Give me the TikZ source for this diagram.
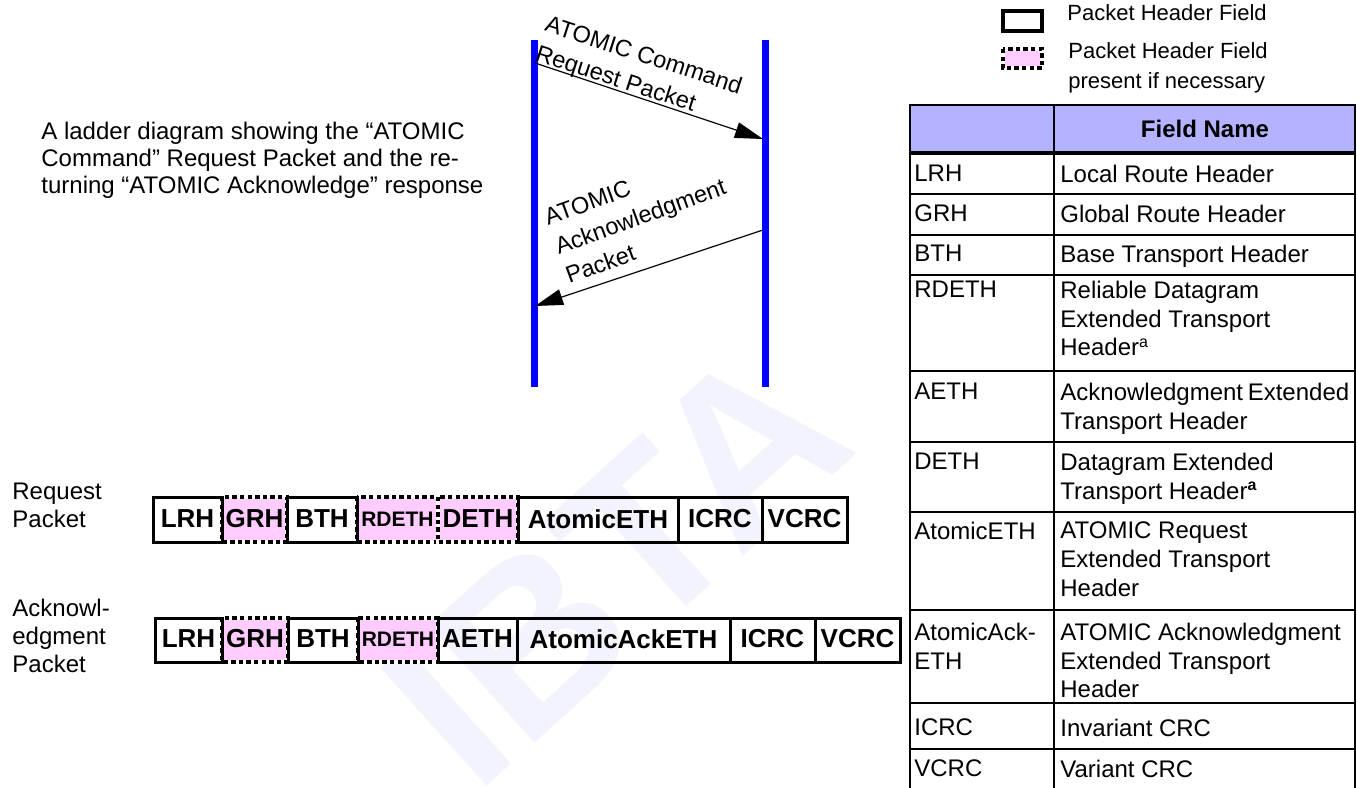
\documentclass[tikz,border=0pt]{standalone}
\usepackage{fontspec}
\setmainfont{Liberation Sans}
\usepackage{tikz}
\usetikzlibrary{arrows.meta,positioning}
\definecolor{fieldpink}{HTML}{FFCCFF}
\definecolor{headblue}{HTML}{B3B3FF}
\definecolor{ladderblue}{HTML}{0000FF}
\definecolor{markblue}{HTML}{F3F3FD}
\tikzset{
  solidfld/.style={draw=black,line width=1.5pt},
  optfld/.style={fill=fieldpink,draw=white,line width=1.8pt,
    postaction={draw=black,line width=1.8pt,dash pattern=on 2.2pt off 1.6pt}},
  bigfld/.style={font=\fontsize{13}{14}\selectfont\bfseries,inner sep=0pt},
  smallfld/.style={font=\fontsize{10.5}{12}\selectfont\bfseries,inner sep=0pt},
  notetxt/.style={font=\fontsize{12}{14}\selectfont,align=left,anchor=north west,inner sep=0pt},
  celltxt/.style={font=\fontsize{12}{14.4}\selectfont,align=left,anchor=north west,inner sep=0pt},
  msglbl/.style={font=\fontsize{11.8}{15.5}\selectfont,align=left,anchor=north west,inner sep=0pt},
  legtxt/.style={font=\fontsize{11}{15}\selectfont,align=left,anchor=north west,inner sep=0pt},
  ladder/.style={draw=ladderblue,line width=3.5pt},
  msg/.style={draw=black,line width=0.6pt,-{Triangle[length=14pt,width=8pt]}},
  tline/.style={draw=black,line width=1.2pt},
  wmark/.style={text=markblue,font=\fontsize{115}{115}\selectfont\bfseries,inner sep=0pt}
}
\begin{document}
\begin{tikzpicture}[x=0.5pt,y=-0.5pt]
\useasboundingbox (0,0) rectangle (1357,788);
\node[wmark,rotate=42] (wm) at (616,564) {IBTA};

% ladder
\coordinate (lt) at (534.5,40); \coordinate (lb) at (534.5,387);
\coordinate (rt) at (765,40); \coordinate (rb) at (765,387);
\draw[ladder] (lt) -- (lb);
\draw[ladder] (rt) -- (rb);
\coordinate (q1) at (535,63); \coordinate (q2) at (763,139);
\coordinate (k1) at (763,230); \coordinate (k2) at (535,306);
\draw[msg] (q1) -- (q2);
\draw[msg] (k1) -- (k2);
\node[msglbl,rotate=-18] (reqlbl) at (549,14) {ATOMIC Command\\Request Packet};
\node[msglbl,rotate=20] (acklbl) at (542,210) {ATOMIC\\Acknowledgment\\Packet};

\node[notetxt,font=\fontsize{12}{13.5}\selectfont] (note) at (41,121.5) {A ladder diagram showing the “ATOMIC\\Command” Request Packet and the re-\\turning “ATOMIC Acknowledge” response};

% packets
\node[notetxt] (reqname) at (12,482.5) {Request\\Packet};
\node[notetxt] (ackname) at (12,598.5) {Acknowl-\\edgment\\Packet};
\foreach \xa/\xb/\lbl/\sty in {222/287/GRH/bigfld,357/438/RDETH/smallfld,438/518/DETH/bigfld}{
  \draw[optfld] (\xa,497) rectangle (\xb,542);
  \node[\sty] (rq\lbl) at ({(\xa+\xb)/2},519) {\lbl};}
\foreach \xa/\xb/\lbl in {153/222/LRH,287/357/BTH,518/678/AtomicETH,678/762/ICRC,762/847/VCRC}{
  \draw[solidfld] (\xa,497) rectangle (\xb,542);
  \node[bigfld] (rq\lbl) at ({(\xa+\xb)/2},519) {\lbl};}
\foreach \xa/\xb/\lbl/\sty in {222/288/GRH/bigfld,358/438/RDETH/smallfld}{
  \draw[optfld] (\xa,618) rectangle (\xb,662);
  \node[\sty] (ak\lbl) at ({(\xa+\xb)/2},639) {\lbl};}
\foreach \xa/\xb/\lbl in {155/222/LRH,288/358/BTH,438/517/AETH,517/730/AtomicAckETH,730/815/ICRC,815/900/VCRC}{
  \draw[solidfld] (\xa,618) rectangle (\xb,662);
  \node[bigfld] (ak\lbl) at ({(\xa+\xb)/2},639) {\lbl};}

% legend
\draw[solidfld,line width=1.6pt] (1003,11) rectangle (1042,31);
\node[legtxt] (legsolid) at (1067,4) {Packet Header Field};
\draw[optfld] (1003,49) rectangle (1042,68);
\node[legtxt] (legopt) at (1068,42) {Packet Header Field\\present if necessary};

% table
\fill[headblue] (910,105) rectangle (1355,153);
\node[font=\fontsize{12}{14}\selectfont\bfseries,inner sep=0pt] (fieldhd) at (1205,129) {Field Name};
\foreach \y in {194,235,275,371,442,512,610,703,749}{\draw[tline] (910,\y) -- (1355,\y);}
\draw[tline] (910,790) -- (910,105) -- (1355,105) -- (1355,790);
\draw[tline] (1054,105) -- (1054,790);
\draw[tline,line width=2pt] (910,153) -- (1355,153);
\foreach \y/\abbr/\fname in {182/LRH/{Local Route Header},222/GRH/{Global Route Header},
  262/BTH/{Base Transport Header},298/RDETH/{Reliable Datagram\\Extended Transport\\Header\textsuperscript{a}},
  400/AETH/{Acknowledgment\hspace{-1pt} Extended\\Transport Header},470/DETH/{Datagram Extended\\Transport Header\textsuperscript{\bfseries a}},
  539/AtomicETH/{ATOMIC Request\\Extended Transport\\Header},640/{AtomicAck-\\ETH}/{ATOMIC Acknowledgment\\Extended Transport\\Header},
  736/ICRC/{Invariant CRC},777/VCRC/{Variant CRC}}{
  \node[celltxt] (abbr\y) at (914,\y-17.5) {\abbr};
  \node[celltxt] (name\y) at (1060,\y-17.5) {\fname};}
\end{tikzpicture}
\end{document}
